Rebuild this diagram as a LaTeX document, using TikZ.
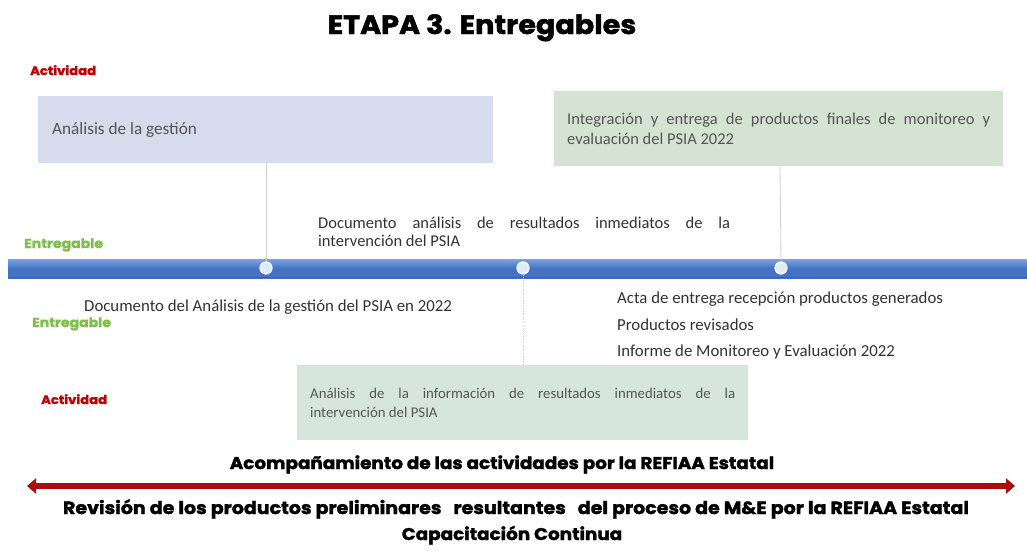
\documentclass[tikz,border=0pt]{standalone}
\usepackage{fontspec}
\setmainfont{Carlito}
\newfontfamily\heavy{Poppins}[UprightFont=*-Bold,BoldFont=*-Bold,FakeBold=1.8,FakeStretch=1.08]
\usetikzlibrary{arrows.meta}
\definecolor{lavbox}{RGB}{214,219,237}
\definecolor{grnbox}{RGB}{213,227,211}
\definecolor{grnbox2}{RGB}{214,229,221}
\definecolor{barblue}{RGB}{68,114,196}
\definecolor{barlight}{RGB}{120,165,225}
\definecolor{dotfill}{RGB}{222,236,250}
\definecolor{arrred}{RGB}{172,12,12}
\definecolor{actred}{RGB}{192,0,0}
\definecolor{entgreen}{RGB}{128,190,80}
\definecolor{txtgray}{RGB}{50,50,50}
\definecolor{boxtxt}{RGB}{85,85,85}
\definecolor{conngray}{RGB}{205,205,205}
\lineskiplimit=-8pt
\tikzset{
  boxtext/.style={anchor=north west, inner sep=0pt, text=boxtxt, align=justify, font=\fontsize{14.8}{19}\selectfont},
  bodytext/.style={anchor=base west, inner sep=0pt, text=txtgray, font=\fontsize{16.8}{18}\selectfont},
  actlabel/.style={anchor=base west, inner sep=0pt, text=actred, font=\heavy\fontsize{12.2}{14}\selectfont},
  entlabel/.style={anchor=base west, inner sep=0pt, text=entgreen, font=\heavy\fontsize{13}{14}\selectfont},
  bigbold/.style={anchor=base, inner sep=0pt, text=black, font=\heavy\fontsize{17}{20}\selectfont},
  dot/.style={circle, draw=white, line width=1.2pt, fill=dotfill, minimum size=12pt, inner sep=0pt},
  conn/.style={draw=conngray, line width=0.8pt},
  dconn/.style={draw=conngray, line width=0.8pt, dotted},
}
\begin{document}
\begin{tikzpicture}[x=1pt,y=-1pt]
\useasboundingbox (0,0) rectangle (1027,550);
\fill[white] (0,0) rectangle (1027,550);

% title
\node[anchor=base, inner sep=0pt, font=\heavy\fontsize{26.5}{30}\selectfont] (title) at (482,34) {ETAPA 3. Entregables};

% labels
\node[actlabel] (act1) at (30,75) {Actividad};
\node[entlabel] (ent1) at (24,248) {Entregable};
\node[entlabel] (ent2) at (32,327) {Entregable};
\node[actlabel] (act2) at (41,404) {Actividad};

% activity boxes
\fill[lavbox] (38,96) rectangle (493,163);
\coordinate (b1s) at (266,163);
\node[anchor=base west, inner sep=0pt, text=boxtxt, font=\fontsize{17.2}{18}\selectfont] (b1t) at (52,134) {Análisis de la gestión};

\fill[grnbox] (554,91) rectangle (1003,166);
\coordinate (b2s) at (780,166);
\node[boxtext, text width=423pt, font=\fontsize{16.5}{20}\selectfont] (b2t) at (567,112.5) {Integración y entrega de productos finales de monitoreo y\linebreak evaluación del PSIA 2022};

\fill[grnbox2] (297,365) rectangle (748,440);
\coordinate (b3n) at (523,365);
\node[boxtext, text width=425pt] (b3t) at (310,388) {Análisis de la información de resultados inmediatos de la\linebreak intervención del PSIA};

% timeline bar
\shade[top color=barlight, bottom color=barblue, middle color=barblue] (8,259) rectangle (1027,278);
\fill[barblue!85!black] (8,276.5) rectangle (1027,278);

\node[dot] (d1) at (266,268) {};
\node[dot] (d2) at (523,268) {};
\node[dot] (d3) at (781,268) {};

\draw[conn] (b1s) -- (d1.north);
\draw[conn] (b2s) -- (d3.north);
\draw[dconn] (d2.south) -- (b3n);

% deliverables
\node[anchor=north west, inner sep=0pt, text=txtgray, align=justify, text width=412pt, font=\fontsize{16.5}{18}\selectfont] (del2) at (318,217) {Documento análisis de resultados inmediatos de la\linebreak intervención del PSIA};
\node[bodytext] (del1) at (84,311) {Documento del Análisis de la gestión del PSIA en 2022};
\node[bodytext] (del3a) at (617,303) {Acta de entrega recepción productos generados};
\node[bodytext] (del3b) at (617,330) {Productos revisados};
\node[bodytext] (del3c) at (617,356) {Informe de Monitoreo y Evaluación 2022};

% bottom
\node[bigbold] (acomp) at (502,469) {Acompañamiento de las actividades por la REFIAA Estatal};
\coordinate (al) at (27,486);
\coordinate (ar) at (1015,486);
\draw[arrred, line width=6.5pt, {Triangle[length=9pt,width=15pt]}-{Triangle[length=9pt,width=15pt]}] (al) -- (ar);
\node[bigbold, font=\heavy\fontsize{17.6}{20}\selectfont] (rev) at (516,514) {Revisión de los productos preliminares\hspace{12pt}resultantes\hspace{12pt}del proceso de M\&E por la REFIAA Estatal};
\node[bigbold] (cap) at (512,540) {Capacitación Continua};
\end{tikzpicture}
\end{document}
